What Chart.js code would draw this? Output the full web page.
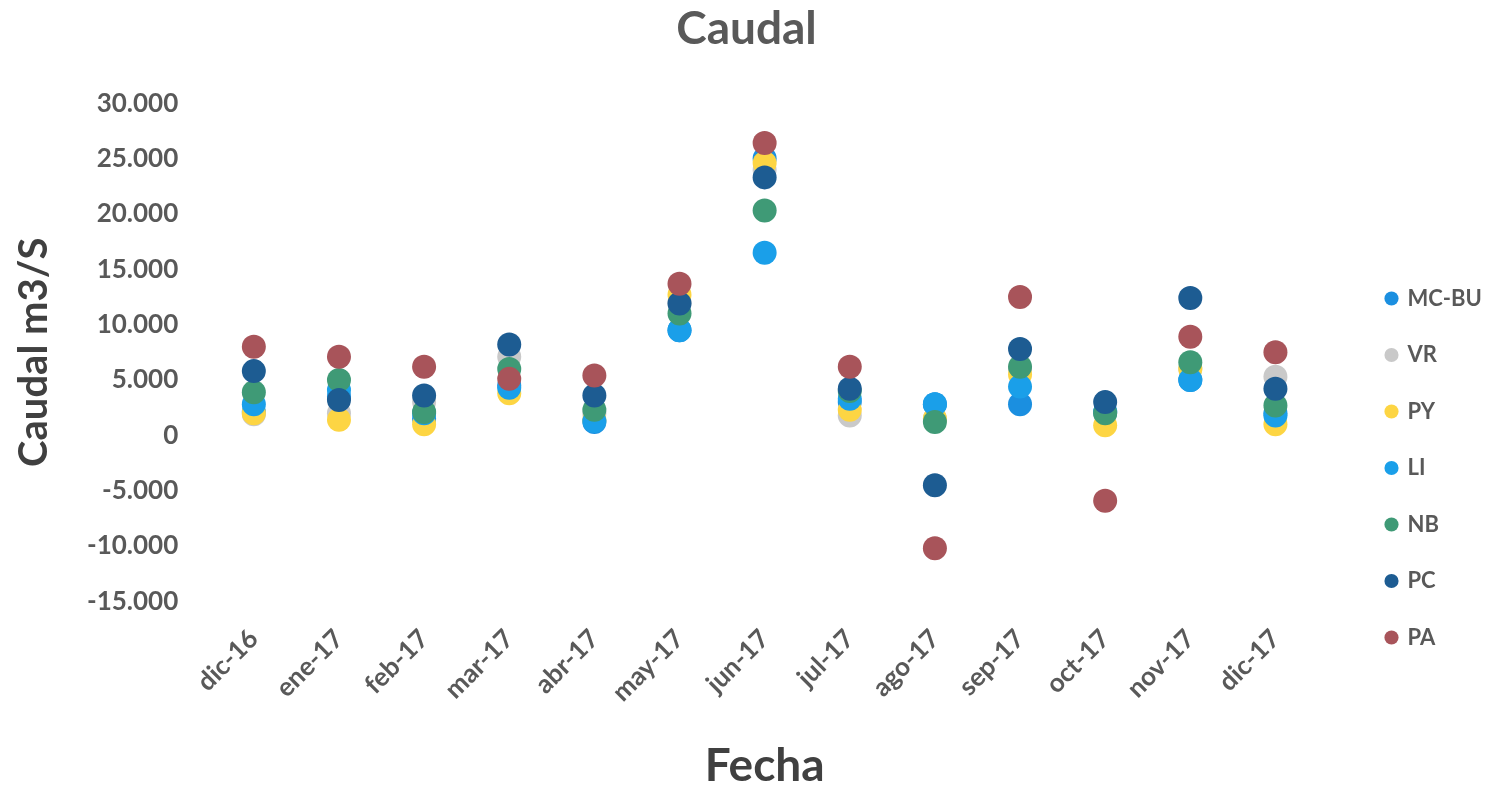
<!DOCTYPE html>
<html>
<head>
<meta charset="utf-8">
<script src="https://cdn.jsdelivr.net/npm/chart.js@4"></script>
<style>
  html, body { margin: 0; padding: 0; background: #fff; }
  #wrap { width: 1487px; height: 794px; }
</style>
</head>
<body>
<div id="wrap"><canvas id="chart"></canvas></div>
<script>
// months on the x axis
var fechas = ['dic-16', 'ene-17', 'feb-17', 'mar-17', 'abr-17', 'may-17', 'jun-17',
              'jul-17', 'ago-17', 'sep-17', 'oct-17', 'nov-17', 'dic-17'];

// caudal values per station (m3/s)
var mcbu = [2100, 3500, 1500, 4500, 1200, 9500, 25000, 3000, 2800, 2800, 2100, 5000, 2000];
var vr   = [1900, 2000, 3000, 7100, 2000, 12000, 24000, 1800, 1500, 6000, 2000, 6000, 5300];
var py   = [2000, 1400, 1000, 3800, 1400, 12700, 24600, 2300, 1500, 5500, 900, 6000, 1000];
var li   = [2800, 4100, 2000, 4300, 1300, 9500, 16500, 3300, 2800, 4400, 2100, 5000, 1800];
var nb   = [3900, 5000, 2100, 6000, 2300, 11000, 20300, 4000, 1200, 6200, 2000, 6600, 2700];
var pc   = [5800, 3200, 3600, 8200, 3600, 11900, 23300, 4200, -4500, 7800, 3000, 12400, 4200];
var pa   = [8000, 7100, 6200, 5100, 5400, 13700, 26400, 6200, -10200, 12500, -5900, 8900, 7500];

var yTicks = [30000, 25000, 20000, 15000, 10000, 5000, 0, -5000, -10000, -15000];

var names  = ['MC-BU', 'VR', 'PY', 'LI', 'NB', 'PC', 'PA'];
var series = [mcbu, vr, py, li, nb, pc, pa];
var colors = ['#1b8fe0', '#c9c9c9', '#fdd543', '#1a9fe9', '#3f9a76', '#1d5c92', '#a8545a'];

function fmt(v) {
  var s = Math.abs(v).toString().replace(/\B(?=(\d{3})+(?!\d))/g, '.');
  return (v < 0 ? '-' : '') + s;
}

var datasets = [];
for (var i = 0; i < names.length; i++) {
  datasets.push({
    label: names[i],
    data: series[i],
    backgroundColor: colors[i],
    borderColor: colors[i],
    borderWidth: 0,
    pointRadius: 12,
    pointHoverRadius: 12,
    showLine: false,
    order: names.length - i   // later series drawn on top, like the original
  });
}

// legend box: fixed width and moved to where the original has it
var legendPlace = {
  id: 'legendPlace',
  beforeLayout: function (chart) {
    var lg = chart.legend;
    if (lg && !lg._fixed) {
      var fit = lg.fit;
      lg.fit = function () { fit.call(this); this.width = 161; };
      lg._fixed = true;
    }
  },
  afterLayout: function (chart) {
    var lg = chart.legend;
    var h = lg.bottom - lg.top;
    lg.left = 1352;
    lg.right = lg.left + 200;
    lg.top = 253;
    lg.bottom = lg.top + h;
  }
};

var txt = '#595959';
var fam = 'Lato, "Open Sans", sans-serif';

new Chart(document.getElementById('chart'), {
  type: 'line',
  data: { labels: fechas, datasets: datasets },
  plugins: [legendPlace],
  options: {
    responsive: true,
    maintainAspectRatio: false,
    animation: false,
    layout: { padding: { left: 14, right: 8, top: 0, bottom: 0 } },
    plugins: {
      title: {
        display: true,
        text: 'Caudal',
        color: txt,
        font: { family: fam, size: 46, weight: 'bold' },
        padding: { top: 2, bottom: 46 }
      },
      legend: {
        position: 'right',
        align: 'start',
        labels: {
          usePointStyle: true,
          pointStyle: 'circle',
          boxWidth: 10,
          boxHeight: 10,
          padding: 34.5,
          color: txt,
          font: { family: fam, size: 22, weight: 'bold' },
          sort: function (a, b) { return a.datasetIndex - b.datasetIndex; }
        }
      },
      tooltip: { enabled: false }
    },
    scales: {
      x: {
        offset: true,
        grid: { display: false, drawTicks: false, offset: true },
        border: { display: false },
        ticks: {
          color: txt,
          minRotation: 45,
          maxRotation: 45,
          padding: 22,
          font: { family: fam, size: 26, weight: 'bold' }
        },
        title: {
          display: true,
          text: 'Fecha',
          color: '#404040',
          font: { family: fam, size: 46, weight: 'bold' },
          padding: { top: 9, bottom: 0 }
        }
      },
      y: {
        min: -15000,
        max: 30000,
        grid: { display: false, drawTicks: false },
        border: { display: false },
        afterBuildTicks: function (axis) {
          axis.ticks = yTicks.map(function (v) { return { value: v }; });
        },
        ticks: {
          color: txt,
          padding: 33,
          font: { family: fam, size: 26, weight: 'bold' },
          callback: function (v) { return fmt(v); }
        },
        title: {
          display: true,
          text: 'Caudal m3/S',
          color: '#404040',
          font: { family: fam, size: 40, weight: 'bold', lineHeight: 1.0 },
          padding: { top: 0, bottom: 0 }
        }
      }
    }
  }
});
</script>
</body>
</html>
